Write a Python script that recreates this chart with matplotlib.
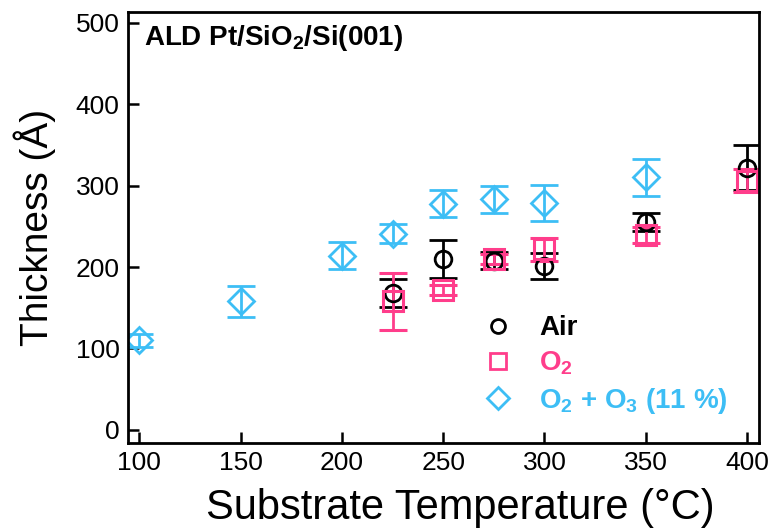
import numpy as np
import matplotlib
matplotlib.use('Agg')
import matplotlib.pyplot as plt
from matplotlib.lines import Line2D

plt.rcParams['font.family'] = ['Liberation Sans', 'DejaVu Sans']
plt.rcParams['mathtext.fontset'] = 'custom'
plt.rcParams['mathtext.rm'] = 'Liberation Sans'
plt.rcParams['mathtext.bf'] = 'Liberation Sans:bold'

# data
air_T = [225, 250, 275, 300, 350, 400]
air_t = [168, 210, 208, 201, 255, 322]
air_err = [17, 23, 10, 16, 11, 28]

o2_T = [225, 250, 275, 300, 350, 400]
o2_t = [158, 172, 210, 222, 239, 306]
o2_err = [35, 6, 6, 14, 10, 14]

o3_T = [100, 150, 200, 225, 250, 275, 300, 350]
o3_t = [110, 158, 214, 241, 278, 283, 279, 310]
o3_err = [8, 19, 17, 12, 17, 17, 22, 23]

black = '#000000'
pink = '#FF3D8B'
blue = '#3DBEF5'

fig = plt.figure(figsize=(7.7, 5.31), dpi=100)
ax = fig.add_axes([0.166, 0.166, 0.820, 0.811])

ax.errorbar(air_T, air_t, yerr=air_err, fmt='o', ms=12, mfc='none', mec=black,
            mew=2, ecolor=black, elinewidth=2, capsize=10, capthick=2)
ax.errorbar(o2_T, o2_t, yerr=o2_err, fmt='s', ms=14, mfc='none', mec=pink,
            mew=2.2, ecolor=pink, elinewidth=2, capsize=10, capthick=2)
ax.errorbar(o3_T, o3_t, yerr=o3_err, fmt='D', ms=13, mfc='none', mec=blue,
            mew=2, ecolor=blue, elinewidth=2, capsize=10, capthick=2)

ax.set_xlim(94.3, 406)
ax.set_ylim(-16, 513)
ax.set_xticks(np.arange(100, 401, 50))
ax.set_yticks(np.arange(0, 501, 100))
ax.tick_params(direction='in', length=8, width=1.8, labelsize=19,
               top=False, right=False, pad=6)
for s in ax.spines.values():
    s.set_linewidth(2)

ax.set_xlabel('Substrate Temperature (°C)', fontsize=30, labelpad=9)
ax.xaxis.label.set_x(0.526)
ax.set_ylabel('Thickness (Å)', fontsize=28, labelpad=14)

ax.text(0.025, 0.975, r'ALD Pt/SiO$_\mathbf{2}$/Si(001)', transform=ax.transAxes,
        fontsize=20, fontweight='bold', va='top', ha='left')

handles = [
    Line2D([], [], ls='none', marker='o', ms=10, mfc='none', mec=black, mew=2),
    Line2D([], [], ls='none', marker='s', ms=11, mfc='none', mec=pink, mew=2),
    Line2D([], [], ls='none', marker='D', ms=11, mfc='none', mec=blue, mew=2),
]
labels = ['Air', r'O$_\mathbf{2}$', r'O$_\mathbf{2}$ + O$_\mathbf{3}$ (11 %)']
ax.legend(handles, labels, loc='lower right', bbox_to_anchor=(0.99, 0.005),
          frameon=False, prop={'size': 20, 'weight': 'bold'},
          labelcolor=[black, pink, blue], handletextpad=0.9,
          labelspacing=0.3, handlelength=1.2)

fig.savefig('out.png', dpi=100)
